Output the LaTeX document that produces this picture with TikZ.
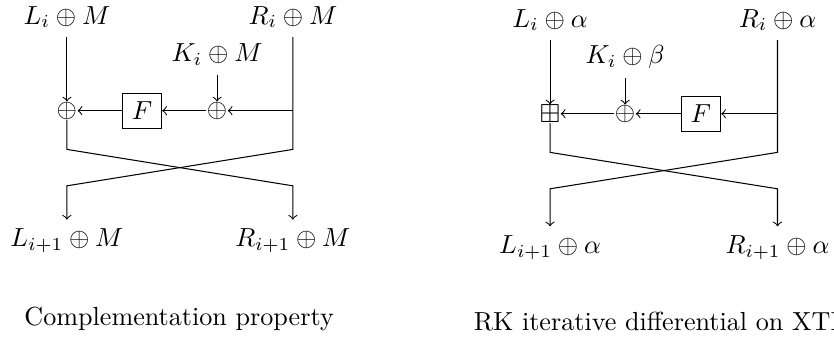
\documentclass[tikz,border=0pt]{standalone}
\usepackage{amsmath,amssymb}
\usepackage{tikz}
\usetikzlibrary{arrows.meta,positioning,calc}

\begin{document}
\begin{tikzpicture}[>=to, fbox/.style={draw,minimum width=0.53cm,minimum height=0.47cm}, xr/.style={inner sep=0pt}]
  \useasboundingbox (0,0) rectangle (11.22,4.55);
  % complementation property
  \node (lin) at (0.90,4.32) {$L_i \oplus M$};
  \node (rin) at (3.94,4.32) {$R_i \oplus M$};
  \node (kin) at (2.92,3.81) {$K_i \oplus M$};
  \node[xr] (xa) at (0.90,3.061) {$\oplus$};
  \node[xr] (xb) at (2.92,3.061) {$\oplus$};
  \node[fbox] (f) at (1.91,3.061) {$F$};
  \node (lout) at (0.90,1.31) {$L_{i+1} \oplus M$};
  \node (rout) at (3.94,1.31) {$R_{i+1} \oplus M$};
  \coordinate (cu) at (0,2.54);
  \coordinate (cd) at (0,2.05);
  \draw[->] (lin) -- (xa);
  \draw[->] (kin) -- (xb);
  \draw[->] (rin |- xb) -- (xb);
  \draw[->] (xb) -- (f);
  \draw[->] (f) -- (xa);
  \draw[->] (xa) -- (xa |- cu) -- (rin |- cd) -- (rout);
  \draw[->] (rin) -- (rin |- cu) -- (lin |- cd) -- (lout);
  \node[anchor=base] (capa) at (2.41,0.175) {Complementation property};
  % RK iterative differential
  \node (lin2) at (7.40,4.28) {$L_i \oplus \alpha$};
  \node (rin2) at (10.46,4.28) {$R_i \oplus \alpha$};
  \node (kin2) at (8.41,3.78) {$K_i \oplus \beta$};
  \node[xr] (ya) at (7.40,3.02) {$\boxplus$};
  \node[xr] (yb) at (8.41,3.02) {$\oplus$};
  \node[fbox] (f2) at (9.43,3.02) {$F$};
  \node (lout2) at (7.40,1.22) {$L_{i+1} \oplus \alpha$};
  \node (rout2) at (10.46,1.22) {$R_{i+1} \oplus \alpha$};
  \coordinate (cu2) at (0,2.50);
  \coordinate (cd2) at (0,2.01);
  \draw[->] (lin2) -- (ya);
  \draw[->] (kin2) -- (yb);
  \draw[->] (rin2 |- f2) -- (f2);
  \draw[->] (f2) -- (yb);
  \draw[->] (yb) -- (ya);
  \draw[->] (ya) -- (ya |- cu2) -- (rin2 |- cd2) -- (rout2);
  \draw[->] (rin2) -- (rin2 |- cu2) -- (lin2 |- cd2) -- (lout2);
  \node[anchor=base west] (capb) at (6.25,0.11) {RK iterative differential on XTEA};
\end{tikzpicture}
\end{document}
